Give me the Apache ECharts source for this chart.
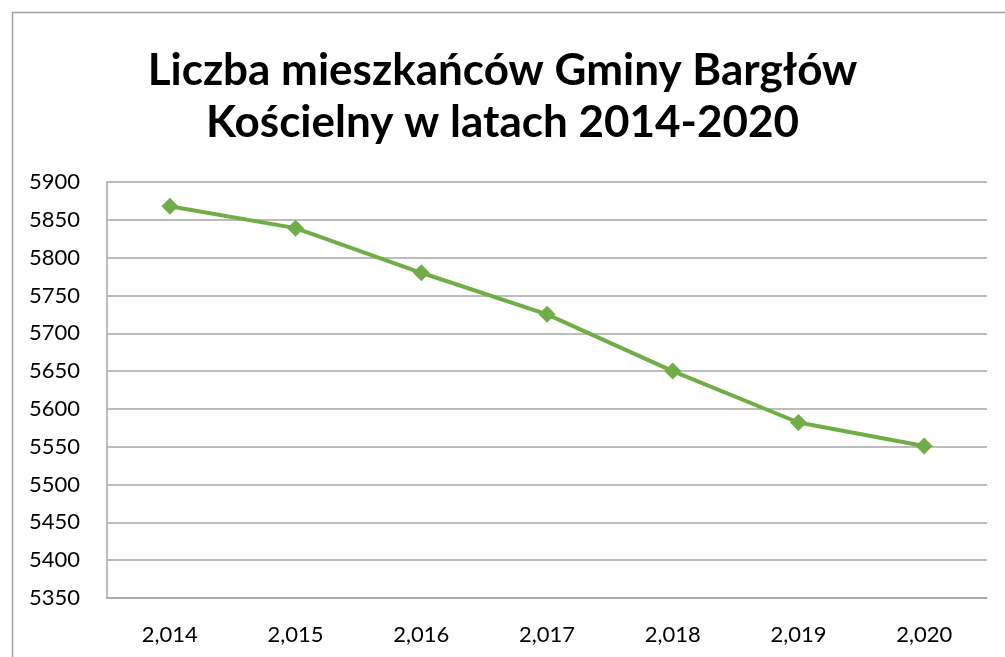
<!DOCTYPE html>
<html>
<head>
<meta charset="utf-8">
<title>Liczba mieszkańców Gminy Bargłów Kościelny</title>
<script src="https://cdn.jsdelivr.net/npm/echarts@6/dist/echarts.min.js"></script>
<style>
  html, body { margin: 0; padding: 0; background: #fff; }
  #chart { width: 1005px; height: 657px; }
</style>
</head>
<body>
<div id="chart"></div>
<script>
// dane
const years = ['2,014', '2,015', '2,016', '2,017', '2,018', '2,019', '2,020']
const residents = [5868, 5839, 5780, 5725, 5650, 5582, 5551]
const titleLines = ['Liczba mieszkańców Gminy Bargłów', 'Kościelny w latach 2014-2020']

const font = 'Lato, "Open Sans", "DejaVu Sans", sans-serif'
const chart = echarts.init(document.getElementById('chart'))

chart.setOption({
  animation: false,
  backgroundColor: '#fff',
  title: {
    text: titleLines.join('\n'),
    left: 'center',
    top: 40,
    textStyle: {
      fontFamily: font,
      fontWeight: 'bold',
      fontSize: 44,
      lineHeight: 52,
      color: '#000'
    }
  },
  graphic: [{
    type: 'rect',
    left: 10,
    top: 10,
    shape: { width: 1100, height: 800 },
    style: { fill: 'none', stroke: '#a0a0a0', lineWidth: 1.5 },
    silent: true
  }],
  grid: {
    left: 107,
    right: 18,
    top: 182,
    bottom: 59
  },
  xAxis: {
    type: 'category',
    data: years,
    boundaryGap: true,
    axisLine: { lineStyle: { color: '#a6a6a6', width: 1.5 } },
    axisTick: { show: false },
    axisLabel: { fontFamily: font, fontSize: 22, color: '#000', margin: 26 }
  },
  yAxis: {
    type: 'value',
    min: 5350,
    max: 5900,
    interval: 50,
    axisLine: { show: true, lineStyle: { color: '#a6a6a6', width: 1.5 } },
    axisTick: { show: false },
    splitLine: { lineStyle: { color: '#a6a6a6', width: 1.5 } },
    axisLabel: {
      fontFamily: font, fontSize: 22, color: '#000', margin: 27,
      formatter: v => String(v)
    }
  },
  series: [{
    type: 'line',
    data: residents,
    symbol: 'diamond',
    symbolSize: 17,
    lineStyle: { color: '#70ad47', width: 4 },
    itemStyle: { color: '#70ad47' }
  }]
})
</script>
</body>
</html>
